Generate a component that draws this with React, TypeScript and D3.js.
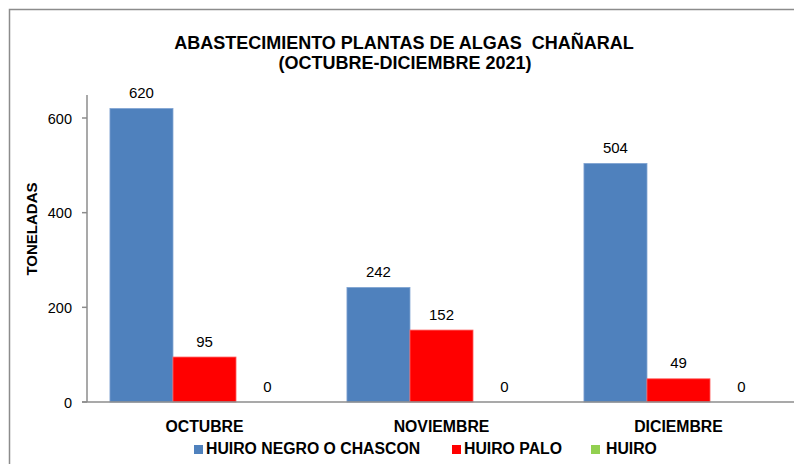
import React, { useEffect, useRef } from "react";
import * as d3 from "d3";

const categories = ["OCTUBRE", "NOVIEMBRE", "DICIEMBRE"];
const seriesNames = ["HUIRO NEGRO O CHASCON", "HUIRO PALO", "HUIRO"];
const huiroNegro = [620, 242, 504];
const huiroPalo = [95, 152, 49];
const huiro = [0, 0, 0];
const yTicks = [0, 200, 400, 600];
const colors = ["#4F81BD", "#FF0000", "#92D050"];
const strokes = ["#7FA3D2", "#FF6060", "#B0DD85"];

const W = 794;
const H = 464;
const FONT = "Arial, 'Liberation Sans', sans-serif";

export default function App() {
  const ref = useRef<SVGSVGElement>(null);

  useEffect(() => {
    const svg = d3.select(ref.current);
    svg.selectAll("*").remove();

    const values = [huiroNegro, huiroPalo, huiro];
    const data = categories.map((c, i) => ({
      cat: c,
      vals: seriesNames.map((s, j) => ({ name: s, v: values[j][i], idx: j })),
    }));

    // outer frame (cut off at right and bottom)
    svg.append("rect")
      .attr("x", 9.5).attr("y", 9.5)
      .attr("width", W + 20).attr("height", H + 20)
      .attr("fill", "white")
      .attr("stroke", "#8c8c8c")
      .attr("stroke-width", 1.5);

    const left = 86, right = 797, top = 95, bottom = 402;
    const y = d3.scaleLinear().domain([0, 600]).range([bottom, 118]);
    const x0 = d3.scaleBand().domain(categories).range([left, right]);
    const x1 = d3.scaleBand().domain(seriesNames)
      .range([0, x0.bandwidth()]).paddingOuter(0.38);

    // title
    const title = svg.append("text")
      .attr("text-anchor", "middle")
      .attr("font-family", FONT)
      .attr("font-weight", "bold")
      .attr("font-size", 18)
      .style("white-space", "pre")
      .attr("fill", "#000");
    title.append("tspan").attr("x", 404).attr("y", 49)
      .text("ABASTECIMIENTO PLANTAS DE ALGAS  CHAÑARAL");
    title.append("tspan").attr("x", 405).attr("y", 69)
      .text("(OCTUBRE-DICIEMBRE 2021)");

    // y axis title
    svg.append("text")
      .attr("transform", "translate(37,229) rotate(-90)")
      .attr("text-anchor", "middle")
      .attr("font-family", FONT)
      .attr("font-weight", "bold")
      .attr("font-size", 15)
      .text("TONELADAS");

    // bars
    const g = svg.append("g");
    const groups = g.selectAll("g.cat").data(data).enter().append("g")
      .attr("transform", d => `translate(${x0(d.cat)},0)`);

    groups.selectAll("rect").data(d => d.vals).enter().append("rect")
      .attr("x", d => x1(d.name)!)
      .attr("y", d => y(d.v))
      .attr("width", x1.bandwidth())
      .attr("height", d => bottom - y(d.v))
      .attr("fill", d => colors[d.idx])
      .attr("stroke", d => (d.v > 0 ? strokes[d.idx] : "none"))
      .attr("stroke-width", 0.8);

    groups.selectAll("text").data(d => d.vals).enter().append("text")
      .attr("x", d => x1(d.name)! + x1.bandwidth() / 2)
      .attr("y", d => y(d.v) - 10.5)
      .attr("text-anchor", "middle")
      .attr("font-family", FONT)
      .attr("font-size", 15)
      .attr("fill", "#000")
      .text(d => d.v);

    // axes
    svg.append("line")
      .attr("x1", left + 1).attr("x2", left + 1)
      .attr("y1", top).attr("y2", bottom)
      .attr("stroke", "#8c8c8c").attr("stroke-width", 1.5);
    svg.append("line")
      .attr("x1", 82).attr("x2", W)
      .attr("y1", bottom).attr("y2", bottom)
      .attr("stroke", "#8c8c8c").attr("stroke-width", 1.5);

    const ticks = svg.append("g");
    ticks.selectAll("line").data(yTicks).enter().append("line")
      .attr("x1", 82).attr("x2", left + 1)
      .attr("y1", d => y(d)).attr("y2", d => y(d))
      .attr("stroke", "#8c8c8c").attr("stroke-width", 1.5);
    ticks.selectAll("text").data(yTicks).enter().append("text")
      .attr("x", 72)
      .attr("y", d => y(d) + 5.5)
      .attr("text-anchor", "end")
      .attr("font-family", FONT)
      .attr("font-size", 14.5)
      .attr("fill", "#000")
      .text(d => d);

    // category labels
    svg.append("g").selectAll("text").data(categories).enter().append("text")
      .attr("x", d => x0(d)! + x0.bandwidth() / 2)
      .attr("y", 432)
      .attr("text-anchor", "middle")
      .attr("font-family", FONT)
      .attr("font-weight", "bold")
      .attr("font-size", 15.8)
      .attr("fill", "#000")
      .text(d => d);

    // legend
    const legendX = [194, 452, 591];
    const lg = svg.append("g").selectAll("g").data(seriesNames).enter().append("g")
      .attr("transform", (d, i) => `translate(${legendX[i]},445)`);
    lg.append("rect")
      .attr("width", 9).attr("height", 9)
      .attr("fill", (d, i) => colors[i]);
    lg.append("text")
      .attr("x", (d, i) => (i === 2 ? 15 : 12))
      .attr("y", 8.5)
      .attr("font-family", FONT)
      .attr("font-weight", "bold")
      .attr("font-size", 15.8)
      .attr("fill", "#000")
      .text(d => d);
  }, []);

  return (
    <svg
      ref={ref}
      width={W}
      height={H}
      style={{ position: "absolute", left: 0, top: 0, background: "#fff" }}
    />
  );
}
